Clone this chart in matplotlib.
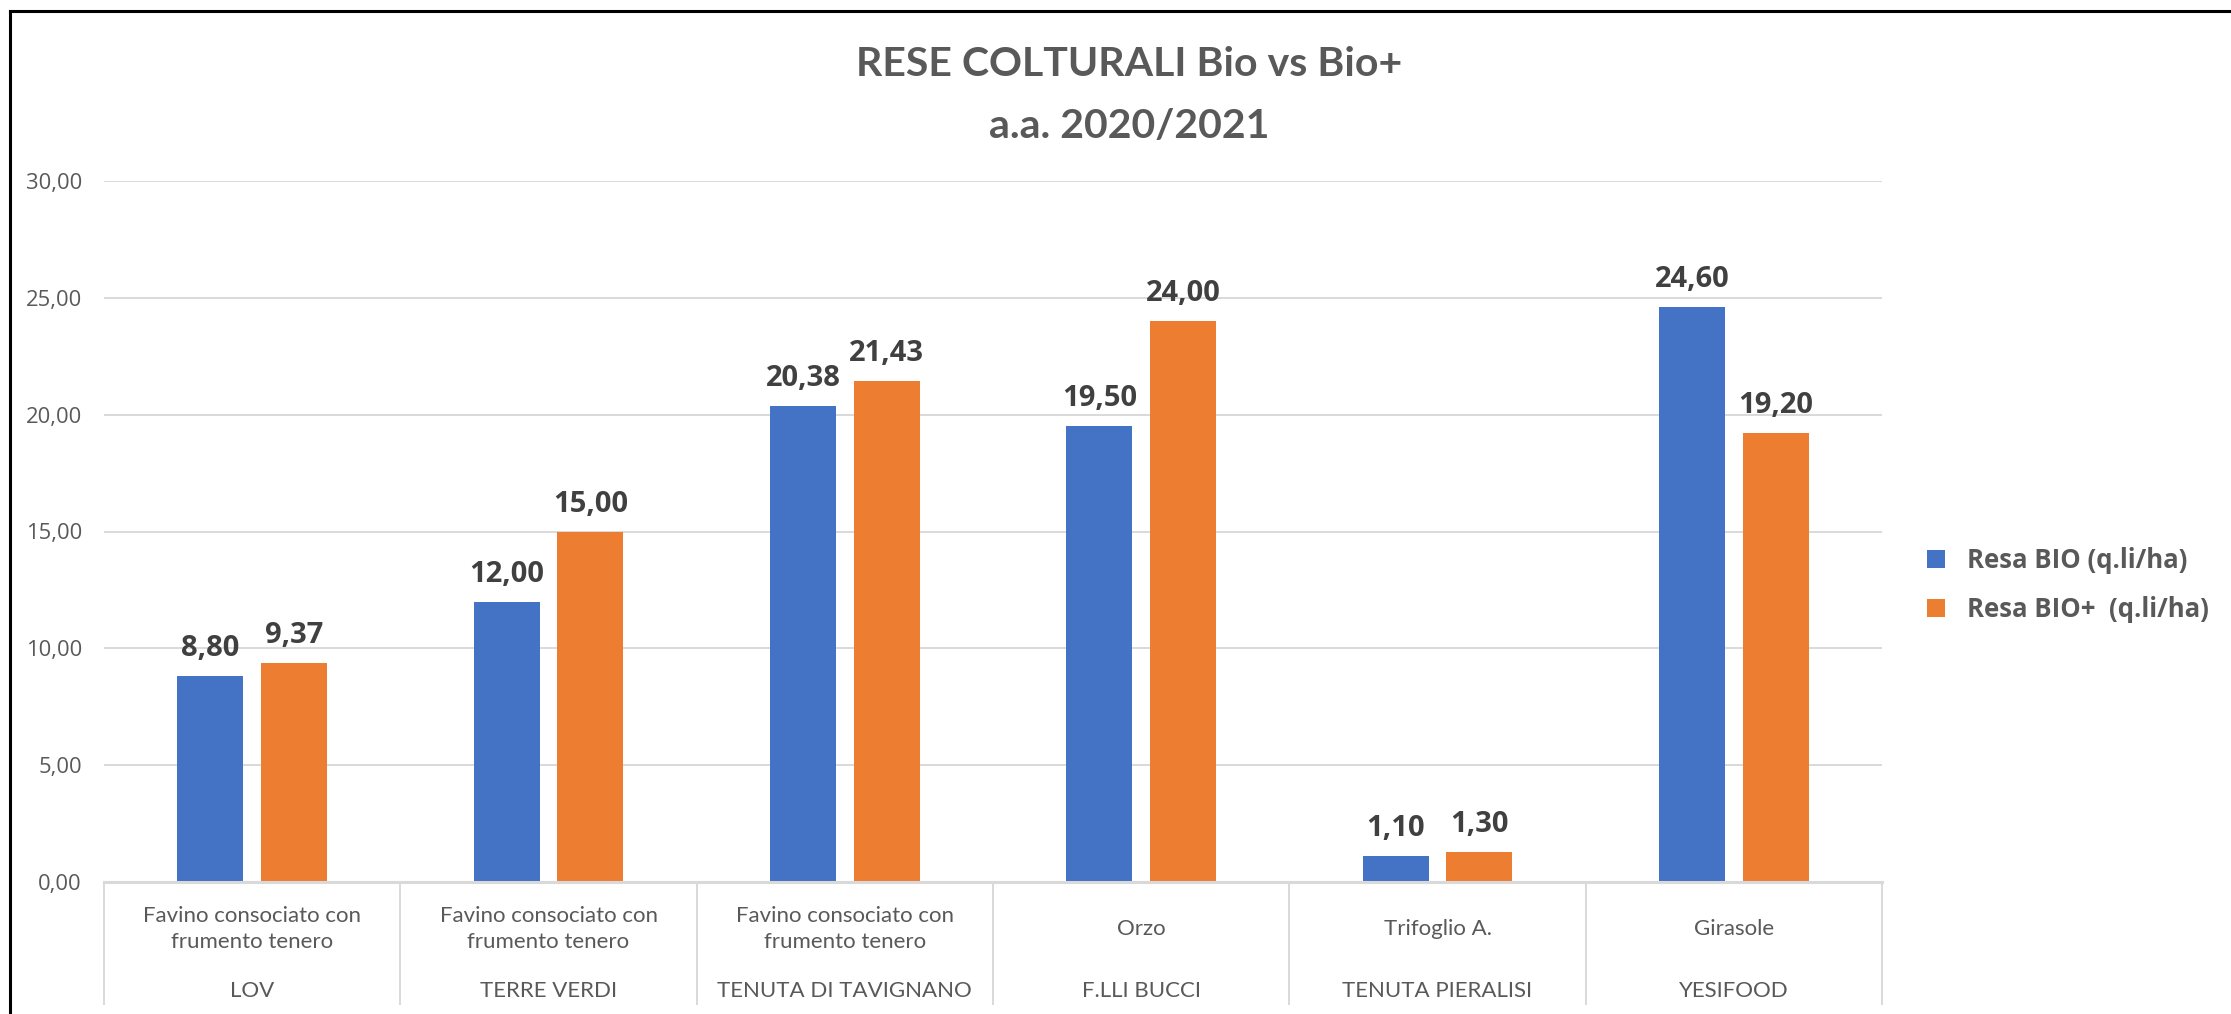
import matplotlib
matplotlib.use("Agg")
import matplotlib.pyplot as plt
import matplotlib.transforms as mtransforms
from matplotlib.lines import Line2D
import numpy as np

# ---- data ----
crops = ["Favino consociato con\nfrumento tenero", "Favino consociato con\nfrumento tenero",
         "Favino consociato con\nfrumento tenero", "Orzo", "Trifoglio A.", "Girasole"]
farms = ["LOV", "TERRE VERDI", "TENUTA DI TAVIGNANO", "F.LLI BUCCI", "TENUTA PIERALISI", "YESIFOOD"]
resa_bio = [8.80, 12.00, 20.38, 19.50, 1.10, 24.60]
resa_bio_plus = [9.37, 15.00, 21.43, 24.00, 1.30, 19.20]
series_names = ["Resa BIO (q.li/ha)", "Resa BIO+  (q.li/ha)"]
yticks = [0, 5, 10, 15, 20, 25, 30]

W, H = 2231, 1014
fig = plt.figure(figsize=(W / 100, H / 100), dpi=100)
fig.patch.set_facecolor("white")

ax_left, ax_right = 104, 1882
ax_top, ax_bot = 181, 882
ax = fig.add_axes([ax_left / W, 1 - ax_bot / H, (ax_right - ax_left) / W, (ax_bot - ax_top) / H])

BLUE = "#4472C4"
ORANGE = "#ED7D31"
GRID = "#D9D9D9"
TXT = "#595959"
LBL = "#404040"

x = np.arange(len(farms))
bw = 0.223
off = 0.141
b1 = ax.bar(x - off, resa_bio, bw, color=BLUE, zorder=3, label=series_names[0])
b2 = ax.bar(x + off, resa_bio_plus, bw, color=ORANGE, zorder=3, label=series_names[1])

ax.set_xlim(-0.5, 5.5)
ax.set_ylim(0, 30)
ax.set_yticks(yticks)
ax.set_yticklabels([f"{v:.2f}".replace(".", ",") for v in yticks],
                   fontsize=15.8, color=TXT, family="Open Sans")
ax.tick_params(axis="y", length=0, pad=16)
ax.set_xticks([])
for s in ax.spines.values():
    s.set_visible(False)
ax.yaxis.grid(True, color=GRID, linewidth=1.4, zorder=0)
ax.set_axisbelow(True)
ax.axhline(0, color=GRID, linewidth=2.2, zorder=4, clip_on=False)

# data labels
for bars, vals in ((b1, resa_bio), (b2, resa_bio_plus)):
    for r, v in zip(bars, vals):
        ax.annotate(f"{v:.2f}".replace(".", ","),
                    (r.get_x() + r.get_width() / 2, v),
                    xytext=(0, 14.4), textcoords="offset points",
                    ha="center", va="baseline", fontsize=21, fontweight="bold",
                    color=LBL, family="Open Sans")

# multi-level category axis
trans = mtransforms.blended_transform_factory(ax.transData, ax.transAxes)
axh = ax_bot - ax_top
def yfrac(py):
    return (ax_bot - py) / axh

for b in np.arange(-0.5, 6.0, 1.0):
    ax.plot([b, b], [0, yfrac(1004)], transform=trans, color=GRID,
            linewidth=1.4, clip_on=False, zorder=1)

for i in range(len(farms)):
    ax.text(i, yfrac(929), crops[i], transform=trans, ha="center", va="center",
            fontsize=16, color=TXT, family="Lato", linespacing=1.4)
    ax.text(i, yfrac(991), farms[i], transform=trans, ha="center", va="center",
            fontsize=16, color=TXT, family="Lato")

# title
fig.text(1129 / W, 1 - 65 / H, "RESE COLTURALI Bio vs Bio+", ha="center", va="center",
         fontsize=29.5, fontweight="bold", color=TXT, family="Lato")
fig.text(1129 / W, 1 - 126 / H, "a.a. 2020/2021", ha="center", va="center",
         fontsize=29.5, fontweight="bold", color=TXT, family="Lato")

# legend
leg = fig.legend(handles=[b1, b2], labels=series_names, loc="center left",
                 bbox_to_anchor=(1927 / W, 1 - 585 / H), frameon=False,
                 prop={"family": "Open Sans", "weight": "bold", "size": 18.5},
                 handlelength=0.7, handleheight=0.7, handletextpad=0.85,
                 labelspacing=0.85, borderpad=0, borderaxespad=0)
for t in leg.get_texts():
    t.set_color(TXT)

# outer frame
fig.add_artist(Line2D([10 / W, 10 / W], [1 - 10.5 / H, 0], color="black", linewidth=2.2,
                      transform=fig.transFigure))
fig.add_artist(Line2D([10 / W, 1], [1 - 10.5 / H, 1 - 10.5 / H], color="black", linewidth=2.2,
                      transform=fig.transFigure))

fig.savefig("out.png", dpi=100)
